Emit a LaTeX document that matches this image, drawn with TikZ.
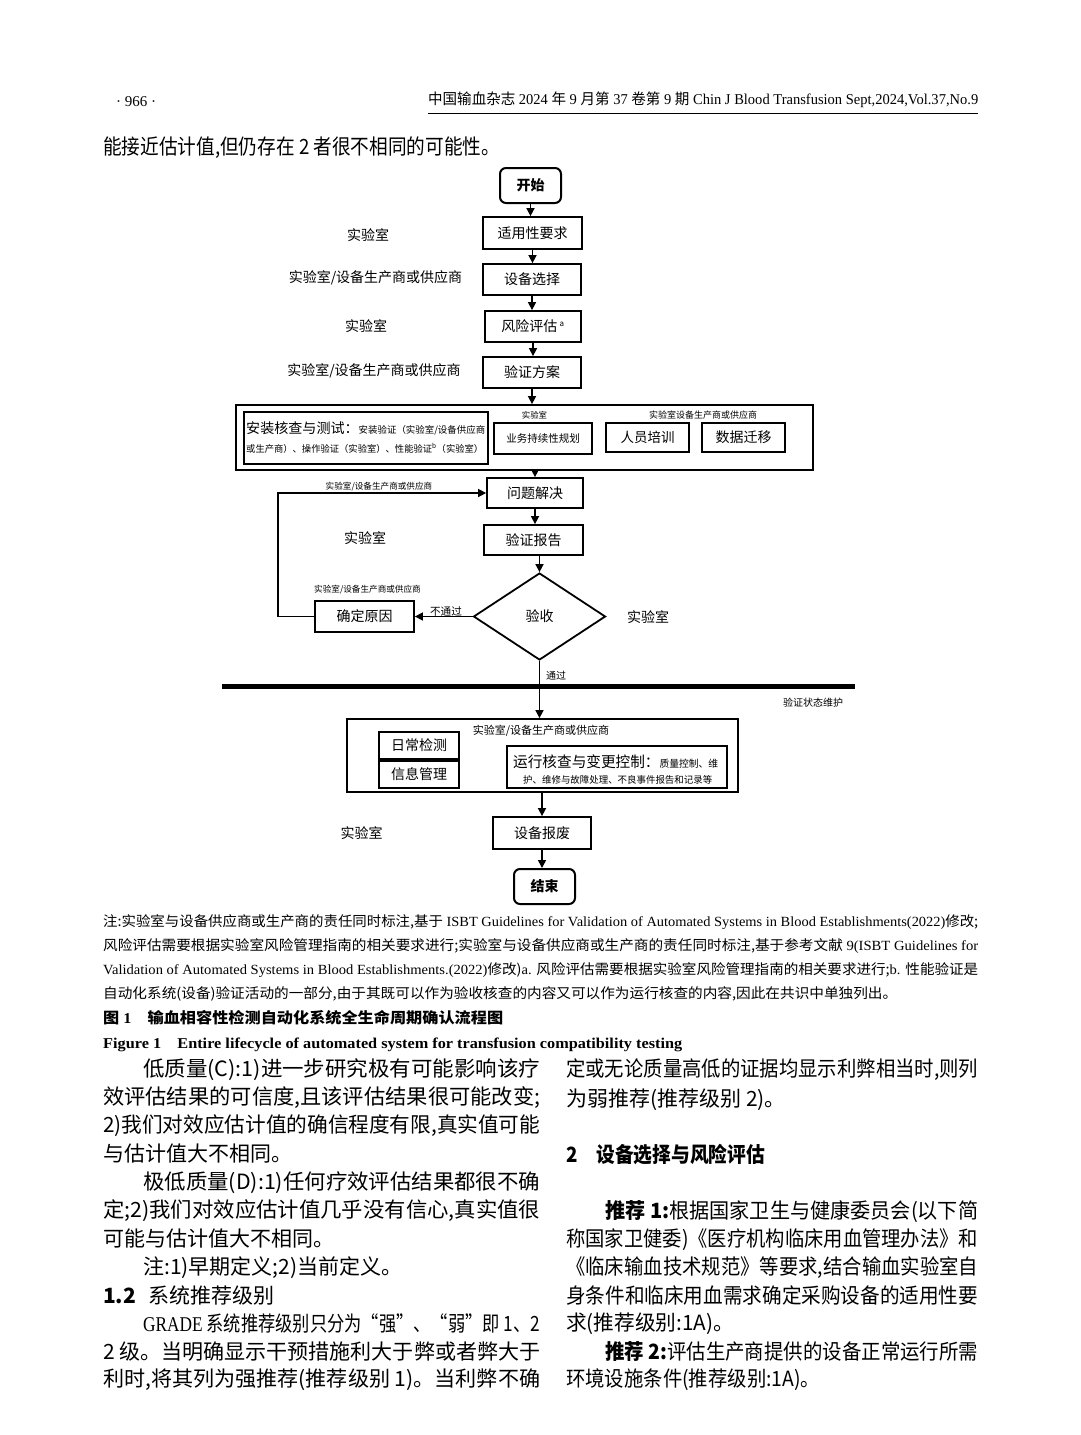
\documentclass[tikz,border=0pt]{standalone}
\usepackage{fontspec}
\usepackage{graphicx}
\setmainfont{Noto Sans CJK SC}
\newfontfamily\en{Liberation Serif}
\newfontfamily\cjkf{Noto Sans CJK SC}
\usetikzlibrary{arrows.meta,shapes.geometric}
\newcommand\fsz[1]{\fontsize{#1pt}{#1pt}\selectfont}
\newcommand\cjkstrut{\vphantom{\cjkf 国}}
\newcounter{tl}
\newcommand\jl[5][\fsz{21}]{\stepcounter{tl}\node[anchor=west,inner sep=0pt] (tl\arabic{tl}) at (#2,#3) {#1\resizebox{#4pt}{\height}{\cjkstrut#5}};}
\newcommand\natl[4][\fsz{21}]{\stepcounter{tl}\node[anchor=west,inner sep=0pt] (tl\arabic{tl}) at (#2,#3) {#1\cjkstrut#4};}
\tikzset{
  flowbox/.style={draw,line width=1.8pt,inner sep=0pt,font=\fsz{14}},
  rbox/.style={flowbox,rounded corners=6pt,line width=2pt,font=\fsz{14}\bfseries},
  lab/.style={inner sep=0pt,font=\fsz{14}},
  slab/.style={inner sep=0pt,font=\fsz{8.6}},
  arr/.style={line width=1.6pt,-{Triangle[length=8pt,width=8pt]}},
}
\begin{document}
\begin{tikzpicture}[x=1pt,y=-1pt]
\useasboundingbox (0,0) rectangle (1080,1435);
\fill[white] (0,0) rectangle (1080,1435);

% ---------- header ----------
\natl[\fsz{15}\en]{116}{101}{· 966 ·}
\jl[\fsz{15}]{428}{100}{550}{中国输血杂志{\en\ 2024 }年{\en\ 9 }月第{\en\ 37 }卷第{\en\ 9 }期{\en\ Chin J Blood Transfusion Sept,2024,Vol.37,No.9}}
\draw[line width=0.8pt] (428,113) -- (978,113);
\jl{103}{148}{397}{能接近估计值,但仍存在 2 者很不相同的可能性。}

% ---------- flowchart ----------
\node[rbox,minimum width=61pt,minimum height=35pt] (start) at (530.5,185.5) {开始};
\node[flowbox,minimum width=99pt,minimum height=32pt] (req) at (532.5,233) {适用性要求};
\node[flowbox,minimum width=98pt,minimum height=31pt] (sel) at (532,279.5) {设备选择};
\node[flowbox,minimum width=96pt,minimum height=31pt] (risk) at (533,326.5) {风险评估\,\textsuperscript{\fsz{8}a}};
\node[flowbox,minimum width=98pt,minimum height=31pt] (plan) at (532,372.5) {验证方案};

\node[lab] (l1) at (368,235) {实验室};
\node[lab] (l2) at (375.5,278) {实验室/设备生产商或供应商};
\node[lab] (l3) at (366,326) {实验室};
\node[lab] (l4) at (374,371) {实验室/设备生产商或供应商};

% big box 1
\node[flowbox,minimum width=577pt,minimum height=65pt] (big1) at (524.5,437.5) {};
\node[flowbox,minimum width=244pt,minimum height=52pt] (inst) at (366,438) {};
\node[anchor=west,inner sep=0pt] (instA) at (246,428) {\resizebox{239pt}{\height}{\cjkstrut{\fsz{14}安装核查与测试：}{\fsz{9.4}安装验证（实验室/设备供应商}}};
\node[anchor=west,inner sep=0pt] (instB) at (246,448) {\resizebox{237pt}{\height}{\fsz{9.4}\cjkstrut 或生产商）、操作验证（实验室）、性能验证\textsuperscript{b}（实验室）}};
\node[flowbox,minimum width=98pt,minimum height=31pt,font=\fsz{10.5}] (bcp) at (543,438.5) {业务持续性规划};
\node[flowbox,minimum width=83pt,minimum height=29pt,font=\fsz{13.5}] (train) at (647.5,437.5) {人员培训};
\node[flowbox,minimum width=83pt,minimum height=29pt,font=\fsz{14}] (mig) at (743.5,437.5) {数据迁移};
\node[inner sep=0pt,font=\fsz{8.4}] (lb1) at (534.5,415) {实验室};
\node[inner sep=0pt,font=\fsz{9}] (lb2) at (703,415) {实验室设备生产商或供应商};

\node[flowbox,minimum width=96pt,minimum height=30pt] (solve) at (535,493) {问题解决};
\node[flowbox,minimum width=99pt,minimum height=30pt] (report) at (533.5,540) {验证报告};
\node[diamond,draw,line width=1.8pt,inner sep=0pt,minimum width=132pt,minimum height=87pt,font=\fsz{14}] (acc) at (539.5,616.5) {验收};
\node[flowbox,minimum width=99pt,minimum height=31pt] (cause) at (364.5,616.5) {确定原因};

\node[slab] (l5) at (379,487) {实验室/设备生产商或供应商};
\node[lab] (l6) at (365,538) {实验室};
\node[slab] (l7) at (367.5,590) {实验室/设备生产商或供应商};
\node[inner sep=0pt,font=\fsz{10.6}] (nopass) at (446,611) {不通过};
\node[lab] (l8) at (648,617) {实验室};
\node[inner sep=0pt,font=\fsz{10}] (pass) at (556,676) {通过};
\node[inner sep=0pt,font=\fsz{10}] (maint) at (813,703) {验证状态维护};

\coordinate (barL) at (222,686);
\coordinate (barR) at (855,686);
\draw[line width=5pt] (barL) -- (barR);

% big box 2
\node[flowbox,minimum width=391pt,minimum height=73pt] (big2) at (542.5,755.5) {};
\node[inner sep=0pt,font=\fsz{11}] (lb3) at (541,731) {实验室/设备生产商或供应商};
\node[flowbox,minimum width=80pt,minimum height=27pt,font=\fsz{14}] (daily) at (419,745.5) {日常检测};
\node[flowbox,minimum width=80pt,minimum height=27pt,font=\fsz{14}] (info) at (419,774.5) {信息管理};
\node[flowbox,minimum width=220pt,minimum height=42pt] (oper) at (617,767) {};
\node[anchor=west,inner sep=0pt] (operA) at (513,762) {\resizebox{205pt}{\height}{\cjkstrut{\fsz{15}运行核查与变更控制：}{\fsz{10}质量控制、维}}};
\node[anchor=west,inner sep=0pt] (operB) at (523,780) {\resizebox{189pt}{\height}{\fsz{9.5}\cjkstrut 护、维修与故障处理、不良事件报告和记录等}};

\node[flowbox,minimum width=98pt,minimum height=32pt] (scrap) at (542,833) {设备报废};
\node[lab] (l9) at (361.5,833) {实验室};
\node[rbox,minimum width=61pt,minimum height=35pt] (end) at (544.5,886.5) {结束};

% connectors
\draw[arr] (start.south) -- (start.south |- req.north);
\draw[arr] (req.south) -- (req.south |- sel.north);
\draw[arr] (sel.south) -- (sel.south |- risk.north);
\draw[arr] (risk.south) -- (risk.south |- plan.north);
\draw[arr] (plan.south) -- (plan.south |- big1.north);
\draw[arr] (solve.north |- big1.south) -- (solve.north);
\draw[arr] (solve.south) -- (solve.south |- report.north);
\draw[arr] (acc.north |- report.south) -- (acc.north);
\draw[arr] (acc.west) -- (cause.east);
\draw[arr] (cause.west) -- ++(-36,0) |- (solve.west);
\draw[arr] (acc.south) -- (acc.south |- big2.north);
\draw[arr] (big2.south -| scrap.north) -- (scrap.north);
\draw[arr] (scrap.south) -- (scrap.south |- end.north);

% ---------- notes ----------
\jl[\fsz{14}]{103}{922}{875}{注:实验室与设备供应商或生产商的责任同时标注,基于{\en\ ISBT Guidelines for Validation of Automated Systems in Blood Establishments(2022)}修改;}
\jl[\fsz{14}]{103}{946}{875}{风险评估需要根据实验室风险管理指南的相关要求进行;实验室与设备供应商或生产商的责任同时标注,基于参考文献{\en\ 9(ISBT Guidelines for}}
\jl[\fsz{14}]{103}{970}{875}{{\en Validation of Automated Systems in Blood Establishments.(2022)}修改){\en a. }风险评估需要根据实验室风险管理指南的相关要求进行;{\en b. }性能验证是}
\jl[\fsz{14}]{103}{994}{794}{自动化系统(设备)验证活动的一部分,由于其既可以作为验收核查的内容又可以作为运行核查的内容,因此在共识中单独列出。}
\jl[\fsz{15}\bfseries]{103}{1018}{400}{图{\en\bfseries\ 1}\quad 输血相容性检测自动化系统全生命周期确认流程图}
\jl[\fsz{15}\en\bfseries]{103}{1044}{579}{Figure 1\quad Entire lifecycle of automated system for transfusion compatibility testing}

% ---------- left column ----------
\jl{143}{1070}{397}{低质量(C):1)进一步研究极有可能影响该疗}
\jl{103}{1098}{437}{效评估结果的可信度,且该评估结果很可能改变;}
\jl{103}{1126}{437}{2)我们对效应估计值的确信程度有限,真实值可能}
\natl{103}{1154}{与估计值大不相同。}
\jl{143}{1183}{397}{极低质量(D):1)任何疗效评估结果都很不确}
\jl{103}{1211}{437}{定;2)我们对效应估计值几乎没有信心,真实值很}
\natl{103}{1239}{可能与估计值大不相同。}
\natl{143}{1268}{注:1)早期定义;2)当前定义。}
\natl[\fsz{21}\bfseries]{103}{1296}{1.2}
\natl{148}{1296}{系统推荐级别}
\jl{143}{1324}{397}{{\en GRADE} 系统推荐级别只分为“强”、“弱”即 1、2}
\jl{103}{1352}{437}{2 级。当明确显示干预措施利大于弊或者弊大于}
\jl{103}{1380}{437}{利时,将其列为强推荐(推荐级别 1)。当利弊不确}

% ---------- right column ----------
\jl{566}{1070}{412}{定或无论质量高低的证据均显示利弊相当时,则列}
\natl{566}{1100}{为弱推荐(推荐级别 2)。}
\jl[\fsz{21}\bfseries]{566}{1155}{199}{2\quad 设备选择与风险评估}
\jl{605}{1212}{373}{{\bfseries 推荐 1:}根据国家卫生与健康委员会(以下简}
\jl{566}{1240}{412}{称国家卫健委)《医疗机构临床用血管理办法》和}
\jl{566}{1268}{412}{《临床输血技术规范》等要求,结合输血实验室自}
\jl{566}{1296}{412}{身条件和临床用血需求确定采购设备的适用性要}
\jl{566}{1324}{168}{求(推荐级别:1A)。}
\jl{605}{1352}{373}{{\bfseries 推荐 2:}评估生产商提供的设备正常运行所需}
\jl{566}{1380}{254}{环境设施条件(推荐级别:1A)。}
\end{tikzpicture}
\end{document}
